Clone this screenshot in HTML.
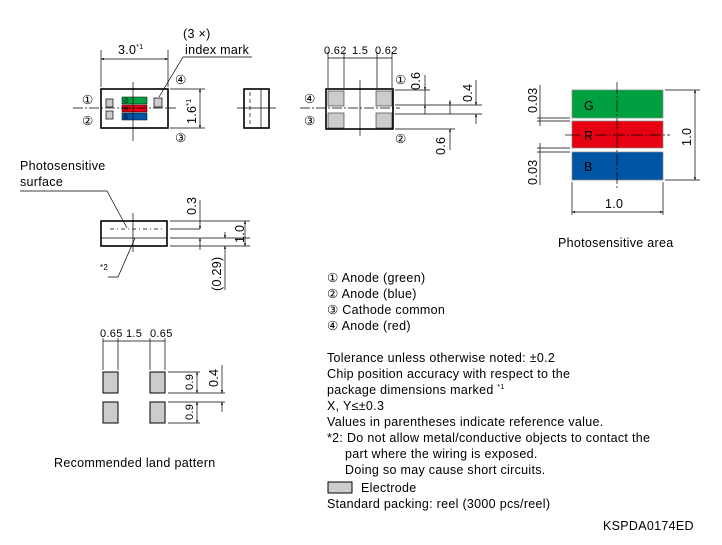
<!DOCTYPE html>
<html><head><meta charset="utf-8"><style>
html,body{margin:0;padding:0;background:#fff}
svg{display:block}
text{font-family:"Liberation Sans","DejaVu Sans",sans-serif;fill:#000;letter-spacing:0.3px}
</style></head><body>
<svg width="722" height="545" viewBox="0 0 722 545" xmlns="http://www.w3.org/2000/svg">
<defs>
<marker id="a" viewBox="0 0 10 10" refX="10" refY="5" markerWidth="6" markerHeight="4" orient="auto-start-reverse"><path d="M0,1 L10,5 L0,9 z" fill="#000"/></marker>
</defs>
<g stroke="#000" fill="none" stroke-width="0.7">
<rect x="101" y="89" width="67" height="39" stroke-width="1.6"/>
<rect x="106" y="99" width="7" height="8" fill="#ccc"/>
<rect x="106" y="111" width="7" height="8" fill="#ccc"/>
<rect x="154" y="98" width="8" height="9" fill="#ccc"/>
<rect x="122" y="97" width="25" height="7" fill="#00a040" stroke-width="0.5"/>
<rect x="122" y="105" width="25" height="7" fill="#e60012" stroke-width="0.5"/>
<rect x="122" y="113" width="25" height="7" fill="#0055a5" stroke-width="0.5"/>
<line x1="73" y1="108" x2="176" y2="108" stroke-dasharray="10,2,2,2"/>
<line x1="133" y1="82" x2="133" y2="141"/>
<line x1="101" y1="50" x2="101" y2="87"/><line x1="168" y1="50" x2="168" y2="87"/>
<line x1="101" y1="59" x2="168" y2="59" marker-start="url(#a)" marker-end="url(#a)"/>
<polyline points="252,57 183,57 159,97"/>
<line x1="170" y1="89" x2="205" y2="89"/><line x1="170" y1="128" x2="205" y2="128"/>
<line x1="200" y1="89" x2="200" y2="128" marker-start="url(#a)" marker-end="url(#a)"/>
<rect x="244" y="89" width="25" height="39" stroke-width="1.6"/>
<line x1="261" y1="89" x2="261" y2="128"/>
<line x1="250" y1="92" x2="250" y2="126" stroke-dasharray="4,3"/>
<line x1="237" y1="108" x2="276" y2="108"/>
<rect x="326" y="89" width="67" height="40" stroke-width="1.6"/>
<rect x="328" y="91" width="16" height="15" fill="#ccc" stroke-width="0.5"/>
<rect x="376" y="91" width="16" height="15" fill="#ccc" stroke-width="0.5"/>
<rect x="328" y="113" width="16" height="15" fill="#ccc" stroke-width="0.5"/>
<rect x="376" y="113" width="16" height="15" fill="#ccc" stroke-width="0.5"/>
<line x1="300" y1="108" x2="400" y2="108" stroke-dasharray="10,2,2,2"/>
<line x1="360" y1="80" x2="360" y2="136"/>
<line x1="328" y1="52" x2="328" y2="88"/><line x1="344" y1="52" x2="344" y2="88"/>
<line x1="377" y1="52" x2="377" y2="88"/><line x1="392" y1="52" x2="392" y2="88"/>
<line x1="328" y1="58" x2="392" y2="58"/>
<line x1="395" y1="90" x2="430" y2="90"/>
<line x1="395" y1="105" x2="482" y2="105"/>
<line x1="395" y1="114" x2="482" y2="114"/>
<line x1="395" y1="129" x2="455" y2="129"/>
<line x1="425" y1="75" x2="425" y2="90" marker-end="url(#a)"/>
<line x1="425" y1="114" x2="425" y2="105" marker-end="url(#a)"/><line x1="425" y1="90" x2="425" y2="105"/>
<line x1="476" y1="80" x2="476" y2="105" marker-end="url(#a)"/>
<line x1="476" y1="124" x2="476" y2="114" marker-end="url(#a)"/>
<line x1="450" y1="105" x2="450" y2="114"/>
<line x1="450" y1="100" x2="450" y2="105" marker-end="url(#a)"/>
<line x1="450" y1="150" x2="450" y2="129" marker-end="url(#a)"/>
<rect x="572" y="90" width="91" height="28" fill="#00a040" stroke="#888"/>
<rect x="572" y="121" width="91" height="27" fill="#e60012" stroke="#888"/>
<rect x="572" y="152" width="91" height="28" fill="#0055a5" stroke="#888"/>
<line x1="617" y1="82" x2="617" y2="188" stroke-dasharray="12,2,2,2"/>
<line x1="595" y1="135" x2="670" y2="135" stroke-dasharray="12,2,2,2"/>
<line x1="565" y1="135" x2="580" y2="135"/>
<line x1="665" y1="90" x2="700" y2="90"/><line x1="665" y1="180" x2="700" y2="180"/>
<line x1="695" y1="90" x2="695" y2="180" marker-start="url(#a)" marker-end="url(#a)"/>
<line x1="572" y1="182" x2="572" y2="215"/><line x1="663" y1="182" x2="663" y2="215"/>
<line x1="572" y1="212" x2="663" y2="212" marker-start="url(#a)" marker-end="url(#a)"/>
<line x1="537" y1="118" x2="570" y2="118"/><line x1="537" y1="121" x2="570" y2="121"/>
<line x1="537" y1="148" x2="570" y2="148"/><line x1="537" y1="152" x2="570" y2="152"/>
<line x1="540" y1="85" x2="540" y2="126"/><line x1="540" y1="143" x2="540" y2="185"/>
<rect x="101" y="221" width="66" height="25" stroke-width="1.6"/>
<line x1="101" y1="238" x2="167" y2="238"/>
<line x1="110" y1="229" x2="165" y2="229" stroke-dasharray="4,3,1,3"/>
<line x1="133" y1="213" x2="133" y2="252"/>
<polyline points="20,191 107,191 127,228"/>
<polyline points="108,277 118,277 135,238"/>
<line x1="170" y1="221" x2="250" y2="221"/><line x1="170" y1="229" x2="200" y2="229"/>
<line x1="170" y1="238" x2="250" y2="238"/><line x1="170" y1="246" x2="250" y2="246"/>
<line x1="200" y1="200" x2="200" y2="229" marker-end="url(#a)"/>
<line x1="200" y1="250" x2="200" y2="238" marker-end="url(#a)"/>
<line x1="245" y1="221" x2="245" y2="246" marker-start="url(#a)" marker-end="url(#a)"/>
<line x1="225" y1="232" x2="225" y2="238" marker-end="url(#a)"/>
<line x1="225" y1="290" x2="225" y2="246" marker-end="url(#a)"/>
<rect x="103" y="372" width="15" height="21" fill="#ccc" stroke-width="1"/>
<rect x="150" y="372" width="15" height="21" fill="#ccc" stroke-width="1"/>
<rect x="103" y="402" width="15" height="21" fill="#ccc" stroke-width="1"/>
<rect x="150" y="402" width="15" height="21" fill="#ccc" stroke-width="1"/>
<line x1="103" y1="338" x2="103" y2="370"/><line x1="118" y1="338" x2="118" y2="370"/>
<line x1="150" y1="338" x2="150" y2="370"/><line x1="165" y1="338" x2="165" y2="370"/>
<line x1="103" y1="341" x2="165" y2="341"/>
<line x1="168" y1="372" x2="200" y2="372"/><line x1="168" y1="393" x2="225" y2="393"/>
<line x1="168" y1="402" x2="225" y2="402"/><line x1="168" y1="423" x2="200" y2="423"/>
<line x1="197" y1="372" x2="197" y2="393" marker-start="url(#a)" marker-end="url(#a)"/>
<line x1="197" y1="402" x2="197" y2="423" marker-start="url(#a)" marker-end="url(#a)"/>
<line x1="222" y1="365" x2="222" y2="393" marker-end="url(#a)"/>
<line x1="222" y1="412" x2="222" y2="402" marker-end="url(#a)"/>
<rect x="328" y="482" width="24" height="11" fill="#ccc" stroke-width="1"/>
</g>
<g font-size="12.5">
<text x="118" y="54">3.0<tspan font-size="7" dy="-5">*1</tspan></text>
<text x="183" y="38">(3 ×)</text>
<text x="185" y="54">index mark</text>
<text x="82" y="104">①</text><text x="82" y="125">②</text>
<text x="175" y="84">④</text><text x="175" y="142">③</text>
<text transform="translate(196,124) rotate(-90)">1.6<tspan font-size="7" dy="-5">*1</tspan></text>
<text x="124" y="103" font-size="6">G</text><text x="124" y="111" font-size="6">R</text><text x="124" y="119" font-size="6">B</text>
<text x="324" y="54" font-size="11">0.62</text><text x="352" y="54" font-size="11">1.5</text><text x="375" y="54" font-size="11">0.62</text>
<text x="304" y="103">④</text><text x="304" y="125">③</text>
<text x="395" y="84">①</text><text x="395" y="143">②</text>
<text transform="translate(420,90) rotate(-90)">0.6</text>
<text transform="translate(472,102) rotate(-90)">0.4</text>
<text transform="translate(445,155) rotate(-90)">0.6</text>
<text x="584" y="110">G</text><text x="584" y="140">R</text><text x="584" y="171">B</text>
<text transform="translate(691,146) rotate(-90)">1.0</text>
<text x="605" y="208">1.0</text>
<text transform="translate(537,113) rotate(-90)">0.03</text>
<text transform="translate(537,185) rotate(-90)">0.03</text>
<text x="558" y="247">Photosensitive area</text>
<text x="20" y="170">Photosensitive</text>
<text x="20" y="186">surface</text>
<text x="100" y="270" font-size="8">*2</text>
<text transform="translate(196,215) rotate(-90)">0.3</text>
<text transform="translate(244,243) rotate(-90)">1.0</text>
<text transform="translate(221,291) rotate(-90)">(0.29)</text>
<text x="100" y="337" font-size="11">0.65</text><text x="126" y="337" font-size="11">1.5</text><text x="150" y="337" font-size="11">0.65</text>
<text transform="translate(193,390) rotate(-90)" font-size="11">0.9</text>
<text transform="translate(193,420) rotate(-90)" font-size="11">0.9</text>
<text transform="translate(218,387) rotate(-90)">0.4</text>
<text x="54" y="467">Recommended land pattern</text>
<text x="327" y="282">① Anode (green)</text>
<text x="327" y="298">② Anode (blue)</text>
<text x="327" y="314">③ Cathode common</text>
<text x="327" y="330">④ Anode (red)</text>
<text x="327" y="362">Tolerance unless otherwise noted: ±0.2</text>
<text x="327" y="378">Chip position accuracy with respect to the</text>
<text x="327" y="394">package dimensions marked <tspan font-size="7" dy="-5">*1</tspan></text>
<text x="327" y="410">X, Y≤±0.3</text>
<text x="327" y="426">Values in parentheses indicate reference value.</text>
<text x="327" y="442">*2: Do not allow metal/conductive objects to contact the</text>
<text x="345" y="458">part where the wiring is exposed.</text>
<text x="345" y="474">Doing so may cause short circuits.</text>
<text x="361" y="492">Electrode</text>
<text x="327" y="508">Standard packing: reel (3000 pcs/reel)</text>
<text x="603" y="530">KSPDA0174ED</text>
</g>
</svg>
</body></html>
